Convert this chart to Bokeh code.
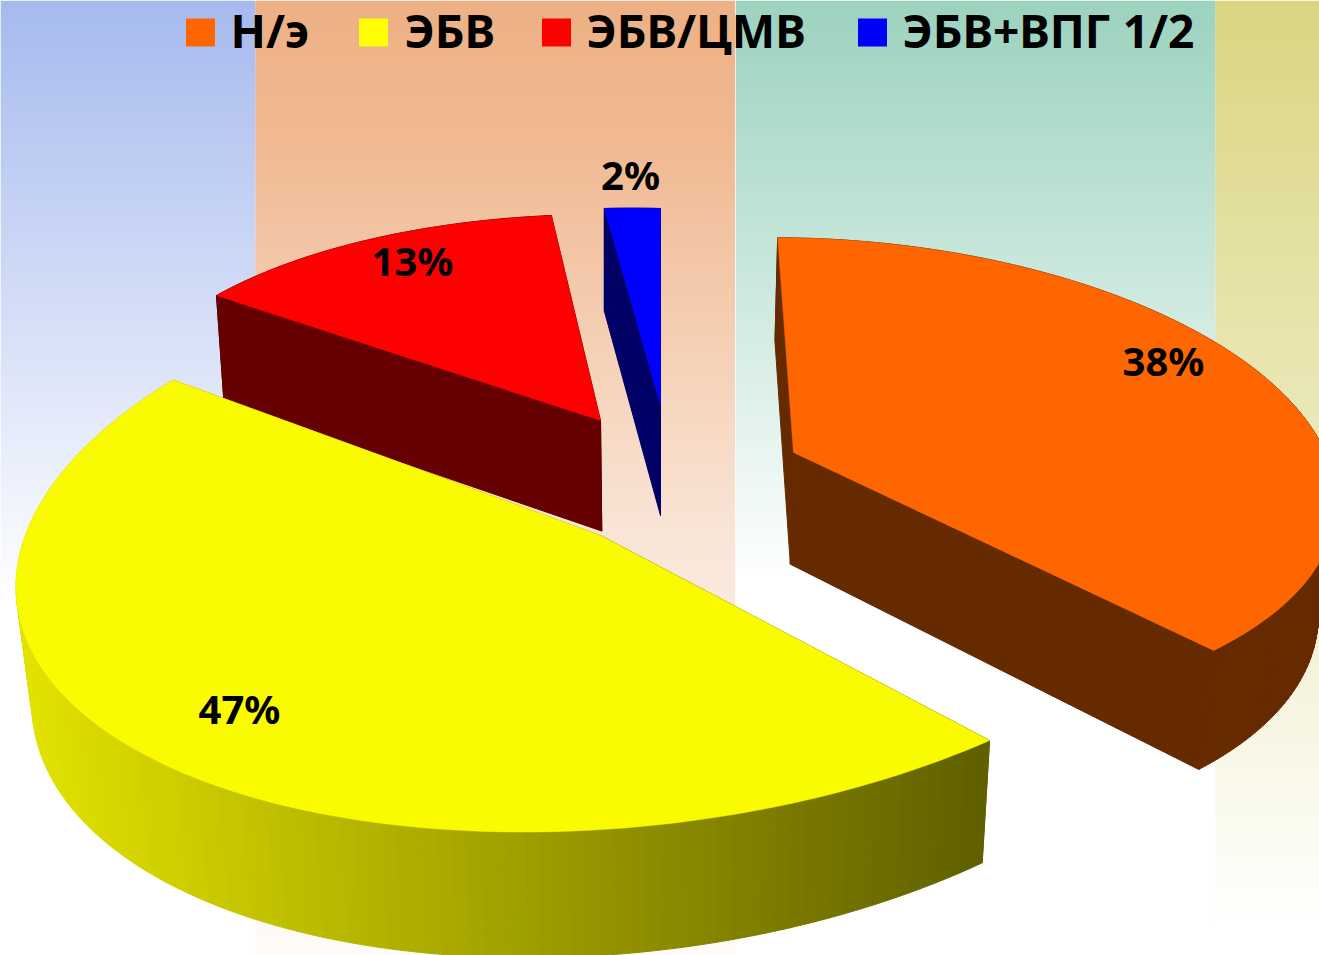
import numpy as np
from bokeh.plotting import figure
from bokeh.models import Range1d
from bokeh.core.properties import value
from bokeh.embed import file_html
from bokeh.resources import INLINE

categories = ["Н/э", "ЭБВ", "ЭБВ/ЦМВ", "ЭБВ+ВПГ 1/2"]
shares = [38, 47, 13, 2]
share_labels = ["38%", "47%", "13%", "2%"]
top_colors = ["#ff6600", "#fafa00", "#ff0000", "#0000ff"]
legend_colors = ["#ff6600", "#ffff00", "#ff0000", "#0000ff"]
side_colors = ["#662a00", None, "#660000", "#000066"]

# page pixels of the picture: data units are picture pixels
W, H = 1319, 955
FONT = "Noto Sans"

# projection of each slice: apex, ellipse centre (relative to apex), axis vectors
apex = {0: (793, 452), 1: (600, 535), 2: (600, 420), 3: (660, 405)}
centre = {0: (37.2, 23.2), 1: (23, 3), 2: (0, 0), 3: (0, 0)}
axis_u = {0: (-53, -238), 1: (65, -293), 2: (11.5, -206), 3: (0, -197)}
axis_v = {0: (503, 1.8), 1: (604, -17), 2: (483, 4.8), 3: (448, 12.6)}
lean = {0: 0.028, 1: 0.024, 2: 0.016, 3: 0.0}

label_xy = [(1163, 360), (239, 708), (412, 260), (630, 174)]
legend_swatch_x = [200, 373, 556, 872]
legend_text_x = [230, 404, 586, 902]
legend_text_y = 29
legend_y = 32

# band: left, right, colour, (y anchors, fade-to-white amounts)
bands = [(0, 255, (166, 186, 238), ([0, 600], [0, 1])),
         (255, 735, (238, 176, 132), ([0, 150, 540, 955], [0, 0.13, 0.68, 0.95])),
         (735, 1215, (156, 210, 190), ([0, 580], [0, 1])),
         (1215, 1319, (218, 213, 128), ([0, 930], [0, 1]))]

p = figure(width=W, height=H, x_range=Range1d(0, W), y_range=Range1d(H, 0),
           output_backend="svg", toolbar_location=None, min_border=0)
p.axis.visible = False
p.grid.visible = False
p.outline_line_color = None
p.background_fill_color = "white"
p.border_fill_color = "white"

# background: four vertical bands, colour fading to white downward
step = 4
for x0, x1, c, (ya, ta) in bands:
    ys = np.arange(0, H, step)
    t = np.interp(ys, ya, ta)
    cols = ["#%02x%02x%02x" % tuple(int(round(ci + (255 - ci) * ti)) for ci in c) for ti in t]
    p.quad(left=x0, right=x1, top=ys, bottom=ys + step + 1, fill_color=cols, line_color=None)
p.segment(x0=[735], x1=[735], y0=[0], y1=[H], line_color="white", line_width=1, line_alpha=0.7)


def lower(i, x, y):
    return x - lean[i] * (x - 680), y + 95 + 0.037 * y


starts = np.cumsum([0] + shares[:-1]) / sum(shares) * 2 * np.pi
sweeps = np.array(shares) / sum(shares) * 2 * np.pi

paint_order = [3, 2, 0, 1]
for i in paint_order:
    th = np.linspace(starts[i], starts[i] + sweeps[i], 121)
    ax, ay = apex[i]
    cx, cy = centre[i]
    ux, uy = axis_u[i]
    vx, vy = axis_v[i]
    rx = ax + cx + ux * np.cos(th) + vx * np.sin(th)
    ry = ay + cy + uy * np.cos(th) + vy * np.sin(th)
    ox = np.r_[ax, rx, ax]
    oy = np.r_[ay, ry, ay]
    lx, ly = lower(i, ox, oy)
    xs = [[ox[k], ox[k + 1], lx[k + 1], lx[k]] for k in range(len(ox) - 1)]
    ys = [[oy[k], oy[k + 1], ly[k + 1], ly[k]] for k in range(len(ox) - 1)]
    if side_colors[i] is None:
        cols = []
        for k in range(len(ox) - 1):
            v = int(np.clip(225 - 0.135 * (0.5 * (ox[k] + ox[k + 1]) - 30), 80, 235))
            cols.append("#%02x%02x00" % (v, v))
    else:
        cols = [side_colors[i]] * (len(ox) - 1)
    p.patches(xs, ys, fill_color=cols, line_color=cols, line_width=1)
    p.patch(ox, oy, fill_color=top_colors[i], line_color=top_colors[i], line_width=0.5)

p.text([q[0] for q in label_xy], [q[1] for q in label_xy], text=share_labels,
       text_font=value(FONT), text_font_style="bold", text_font_size="40px",
       text_align="center", text_baseline="middle", text_color="black")

p.rect(legend_swatch_x, [legend_y] * len(categories), width=29, height=28,
       fill_color=legend_colors, line_color=None)
p.text(legend_text_x, [legend_text_y] * len(categories), text=categories, text_font=value(FONT),
       text_font_style="bold", text_font_size="46px", text_align="left", text_baseline="middle",
       text_color="black")

open("out.html", "w").write(file_html(p, INLINE))
